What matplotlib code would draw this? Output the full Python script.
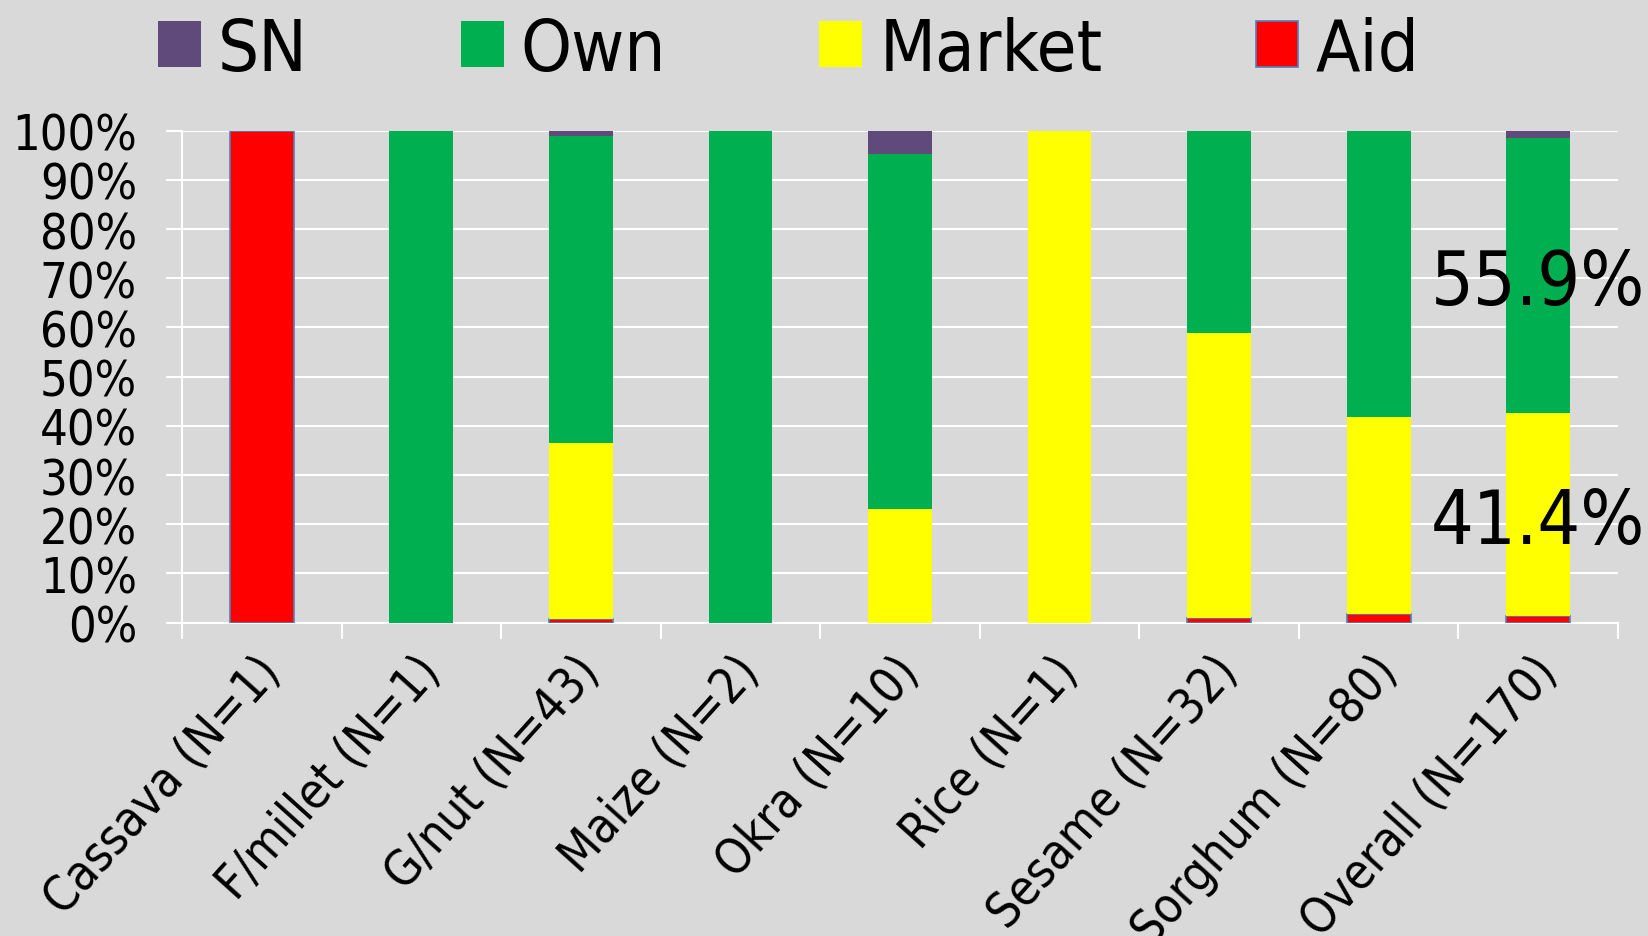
import matplotlib
matplotlib.use("Agg")
import matplotlib.pyplot as plt
from matplotlib.transforms import ScaledTranslation
import numpy as np

# Source of food by crop, percent of households
categories = ["Cassava (N=1)", "F/millet (N=1)", "G/nut (N=43)", "Maize (N=2)",
              "Okra (N=10)", "Rice (N=1)", "Sesame (N=32)", "Sorghum (N=80)",
              "Overall (N=170)"]
aid = [100.0, 0.0, 0.7, 0.0, 0.0, 0.0, 1.0, 1.7, 1.3]
market = [0.0, 0.0, 35.8, 0.0, 23.1, 100.0, 57.8, 40.0, 41.4]
own = [0.0, 100.0, 62.5, 100.0, 72.1, 0.0, 41.2, 58.3, 55.9]
sn = [0.0, 0.0, 1.0, 0.0, 4.8, 0.0, 0.0, 0.0, 1.4]
y_ticks = list(range(0, 101, 10))

plt.rcParams["font.family"] = ["DejaVu Sans"]
plt.rcParams["font.stretch"] = "condensed"

BG = "#d9d9d9"
fig = plt.figure(figsize=(16.49, 9.37), dpi=100, facecolor=BG)
ax = fig.add_axes([0.1104, 0.3344, 0.8708, 0.5251])
ax.set_facecolor(BG)

x = np.arange(len(categories))
w = 0.4
aid_arr = np.array(aid)
mkt_arr = np.array(market)
own_arr = np.array(own)
sn_arr = np.array(sn)

b_aid = ax.bar(x, aid_arr, w, color="#ff0000",
               edgecolor=["#4f81bd" if v > 0 else "none" for v in aid],
               linewidth=1.2, label="Aid", zorder=3)
base = aid_arr.copy()
b_mkt = ax.bar(x, mkt_arr, w, bottom=base, color="#ffff00", linewidth=0,
               label="Market", zorder=3)
base = base + mkt_arr
b_own = ax.bar(x, own_arr, w, bottom=base, color="#00b050", linewidth=0,
               label="Own", zorder=3)
base = base + own_arr
b_sn = ax.bar(x, sn_arr, w, bottom=base, color="#604a7b", linewidth=0,
              label="SN", zorder=3)

ax.set_xlim(-0.5, len(categories) - 0.5)
ax.set_ylim(0, 100)
ax.set_yticks(y_ticks)
ax.set_yticklabels([f"{v}%" for v in y_ticks])
ax.yaxis.grid(True, color="white", linewidth=1.5)
ax.set_axisbelow(True)

for side in ("top", "right"):
    ax.spines[side].set_visible(False)
for side in ("left", "bottom"):
    ax.spines[side].set_color("white")
    ax.spines[side].set_linewidth(1.5)

ax.tick_params(axis="y", length=11.5, width=1.5, color="white",
               labelsize=35, pad=21, labelcolor="black")
ax.set_xticks(np.arange(-0.5, len(categories), 1.0), minor=True)
ax.tick_params(axis="x", which="minor", length=11.5, width=1.5, color="white")
ax.set_xticks(x)
ax.tick_params(axis="x", which="major", length=0, pad=0)
ax.set_xticklabels(categories, rotation=48, ha="right", va="center",
                   rotation_mode="anchor", fontsize=35)
shift = ScaledTranslation(0.10, -0.40, fig.dpi_scale_trans)
for lab in ax.get_xticklabels():
    lab.set_transform(lab.get_transform() + shift)

# Value labels on the overall bar
last = len(categories) - 1
ax.text(x[last], aid[last] + market[last] / 2, f"{market[last]:.1f}%",
        ha="center", va="center_baseline", fontsize=54, zorder=5, clip_on=False)
ax.text(x[last], aid[last] + market[last] + own[last] / 2, f"{own[last]:.1f}%",
        ha="center", va="center_baseline", fontsize=54, zorder=5, clip_on=False)

fig.legend([b_sn, b_own, b_mkt, b_aid], ["SN", "Own", "Market", "Aid"],
           loc="center left", bbox_to_anchor=(158 / 1649, 1 - 51 / 937),
           ncol=4, frameon=False, fontsize=52, handlelength=0.59,
           handleheight=0.59, handletextpad=0.24, columnspacing=2.12,
           borderpad=0, borderaxespad=0)

fig.savefig("out.png", dpi=100, facecolor=BG)
